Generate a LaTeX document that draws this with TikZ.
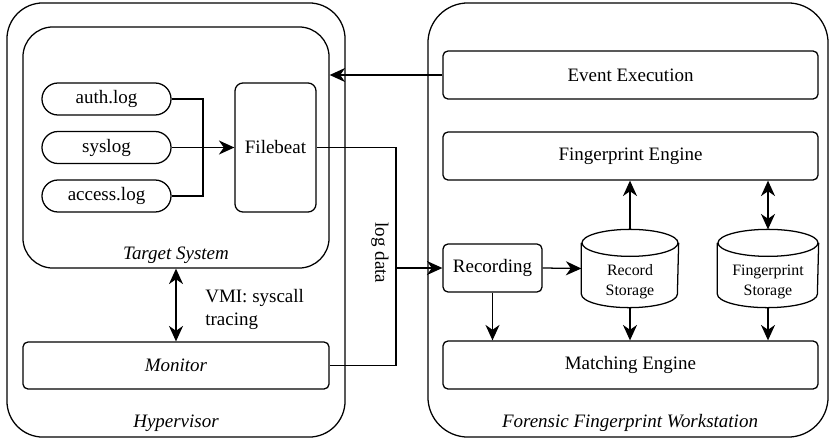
\documentclass[tikz,border=0pt]{standalone}
\usepackage{fontspec}
\setmainfont{Liberation Serif}
\newfontfamily\tms{Liberation Serif}
\usetikzlibrary{arrows.meta}

\newcommand\drumshape[2]{%
	\draw ([yshift=-0.3375cm]#1.north west) -- ([yshift=0.3375cm]#1.south west)
		arc[start angle=180, end angle=360, x radius=#2, y radius=0.3375cm]
		-- ([yshift=-0.3375cm]#1.north east);
	\draw ([yshift=-0.3375cm]#1.north) ellipse [x radius=#2, y radius=0.3375cm];}

\begin{document}
\begin{tikzpicture}[x=0.025cm, y=-0.025cm, line width=0.9pt,
	every node/.style={font=\tms\fontsize{13.5}{16}\selectfont},
	box/.style={shape=rectangle,draw=black,rounded corners=0.125cm},
	pill/.style={shape=rectangle,draw=black,rounded corners=0.4cm,
		minimum width=3.225cm,minimum height=0.8cm,inner sep=0pt},
	store/.style={shape=rectangle,minimum width=2.4cm,minimum height=1.925cm,inner sep=0pt},
	storetext/.style={align=center,inner sep=0pt,font=\tms\fontsize{11.3}{14}\selectfont},
	wide/.style={box,minimum width=9.375cm,minimum height=1.2cm},
	flow/.style={-{Stealth[length=11pt,width=10pt,inset=3.5pt]}},
	both/.style={{Stealth[length=11pt,width=10pt,inset=3.5pt]}-{Stealth[length=11pt,width=10pt,inset=3.5pt]}}]
	\useasboundingbox (0,0) rectangle (829,441);

	\node[shape=rectangle,draw=black,rounded corners=0.9cm,
		minimum width=8.45cm,minimum height=10.85cm]
		(hyp) at (176, 220) {};
	\node[shape=rectangle,draw=black,rounded corners=0.75cm,
		minimum width=7.65cm,minimum height=6.025cm]
		(target) at (176, 147.5) {};
	\node[box,minimum width=7.65cm,minimum height=1.175cm]
		(mon) at (176, 365.5) {\itshape Monitor};
	\node (tlabel) at (176, 255) {\itshape Target System};
	\node (hlabel) at (176, 423) {\itshape Hypervisor};

	\node[pill] (auth) at (106.5, 99) {auth.log};
	\node[pill] (sys) at (106.5, 147.5) {syslog};
	\node[pill] (access) at (106.5, 196) {access.log};
	\node[box,rounded corners=0.2cm,minimum width=2.025cm,minimum height=3.225cm]
		(fb) at (275.5, 147.5) {Filebeat};

	\node[shape=rectangle,draw=black,rounded corners=1cm,
		minimum width=10cm,minimum height=10.85cm]
		(ffw) at (628, 220) {};
	\node (flabel) at (630, 423) {\itshape Forensic Fingerprint Workstation};
	\node[wide] (event) at (630.5, 75) {Event Execution};
	\node[wide] (fpe) at (630.5, 156) {Fingerprint Engine};
	\node[box,minimum width=2.475cm,minimum height=1.2cm]
		(rec) at (492.5, 268) {Recording};

	\node[store] (rstore) at (630, 268.5) {};
	\node[store,minimum width=2.5cm] (fstore) at (768, 268.5) {};
	\drumshape{rstore}{1.2cm}
	\drumshape{fstore}{1.25cm}
	\node[storetext] (rtext) at (630, 282) {Record\\Storage};
	\node[storetext] (ftext) at (768, 282) {Fingerprint\\Storage};

	\node[wide] (match) at (630.5, 365) {Matching Engine};

	\coordinate (merge) at (203, 147.5);
	\coordinate (logtop) at (396, 147.5);
	\coordinate (logbot) at (396, 365.5);

	\draw (auth.east) -| (merge);
	\draw (access.east) -| (merge);
	\draw[flow] (sys.east) -- (fb.west);

	\draw (fb.east) -- (logtop) -- (logbot) -- (mon.east);
	\draw[flow] (logtop |- rec.west) -- (rec.west);
	\node[rotate=-90] (logtxt) at (380, 253) {log data};

	\draw[flow] (event.west) -- (event.west -| target.east);
	\draw[both] (target.south) -- (mon.north);
	\node[anchor=west,align=left,font=\tms\fontsize{13.5}{16.4}\selectfont]
		(vmi) at (200, 309) {VMI: syscall\\tracing};

	\draw[flow] (rec.east) -- (rstore.west);
	\draw[flow] (rstore.north) -- (rstore.north |- fpe.south);
	\draw[both] (fstore.north) -- (fstore.north |- fpe.south);
	\draw[flow] (rec.south) -- (rec.south |- match.north);
	\draw[flow] (rstore.south) -- (rstore.south |- match.north);
	\draw[flow] (fstore.south) -- (fstore.south |- match.north);
\end{tikzpicture}
\end{document}
